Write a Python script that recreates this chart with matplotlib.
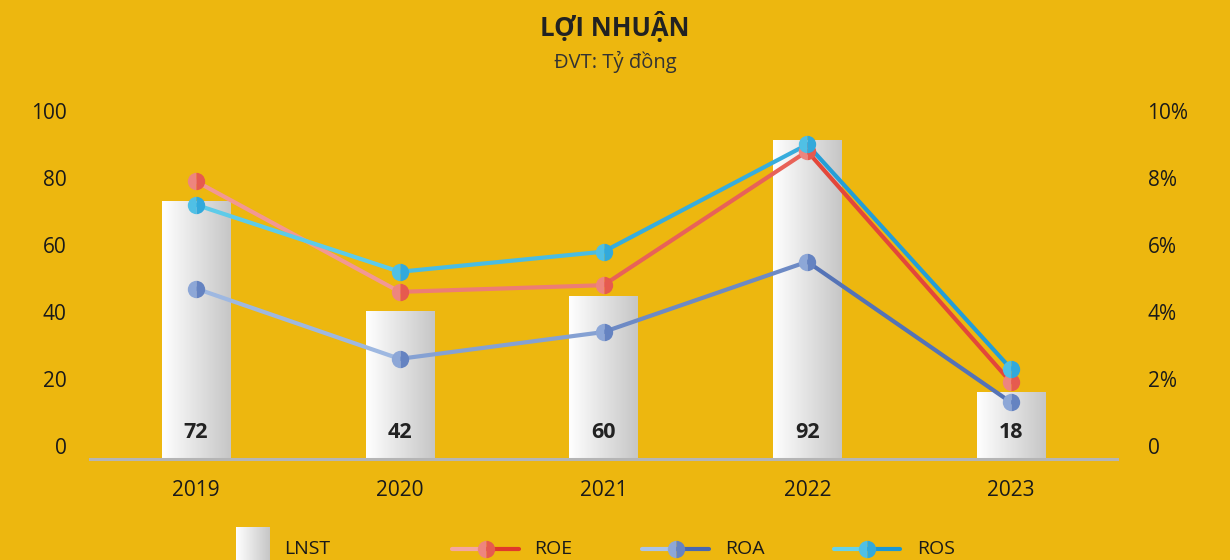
import numpy as np
import matplotlib
matplotlib.use("Agg")
import matplotlib.pyplot as plt
from matplotlib.colors import LinearSegmentedColormap, to_rgb
from matplotlib.collections import LineCollection
from matplotlib.patches import Rectangle

plt.rcParams['font.family'] = ['Open Sans', 'Noto Sans', 'DejaVu Sans']

# ---------------- data ----------------
years = ["2019", "2020", "2021", "2022", "2023"]
lnst_labels = [72, 42, 60, 92, 18]          # printed values
lnst_bars = [73.1, 40.3, 44.8, 91.3, 16.1]   # drawn bar heights (as in picture)
roe = [7.9, 4.6, 4.8, 8.8, 1.9]              # %
roa = [4.7, 2.6, 3.4, 5.5, 1.3]              # %
ros = [7.2, 5.2, 5.8, 9.0, 2.3]              # %
left_ticks = [0, 20, 40, 60, 80, 100]
right_ticks = [0, 2, 4, 6, 8, 10]
right_ticklabels = ["0", "2%", "4%", "6%", "8%", "10%"]

BG = "#EDB70F"
TXT = "#1a1a1a"
series_colors = {
    "ROE": ("#f4a6a2", "#e0392b"),
    "ROA": ("#aac3e8", "#4867b0"),
    "ROS": ("#66d2ec", "#1b97d4"),
}

W, H = 1230, 560
fig = plt.figure(figsize=(W / 100, H / 100), dpi=100, facecolor=BG)

ymin = -3.9
ax = fig.add_axes([90 / W, (H - 459) / H, (1117 - 90) / W, (459 - 111) / H])
ax.set_facecolor(BG)
x = np.arange(len(years))
ax.set_xlim(-0.52, len(years) - 0.48)
ax.set_ylim(ymin, 100)

bar_cmap = LinearSegmentedColormap.from_list("bar", ["#ffffff", "#c6c6c6"])
grad = np.linspace(0, 1, 256).reshape(1, -1)
heights = np.array(lnst_bars) - ymin
bars = ax.bar(x, heights, bottom=ymin, width=0.335, color="none", edgecolor="none", zorder=2)
for b in bars:
    bx, by, bw, bh = b.get_x(), b.get_y(), b.get_width(), b.get_height()
    im = ax.imshow(grad, extent=[bx, bx + bw, by, by + bh], cmap=bar_cmap,
                   aspect="auto", zorder=2, interpolation="bicubic")
    im.set_clip_path(b)
ax.set_xlim(-0.52, len(years) - 0.48)
ax.set_ylim(ymin, 100)

for xi, lab in zip(x, lnst_labels):
    ax.annotate(str(lab), (xi, 0), xytext=(0, 10), textcoords="offset points",
                ha="center", va="center", fontsize=15.5, fontweight="bold",
                color="#222222", zorder=5)

for s in ["top", "right", "left"]:
    ax.spines[s].set_visible(False)
ax.spines["bottom"].set_color("#b5b5b5")
ax.spines["bottom"].set_linewidth(2.2)
ax.spines["bottom"].set_zorder(6)
ax.set_yticks(left_ticks)
ax.set_yticklabels([str(t) for t in left_ticks])
ax.tick_params(axis="y", length=0, pad=17, labelsize=15, labelcolor=TXT)
ax.set_xticks(x)
ax.set_xticklabels(years)
ax.tick_params(axis="x", length=0, pad=15, labelsize=15, labelcolor=TXT)

ax2 = ax.twinx()
ax2.set_ylim(ymin / 10, 10)
for s in ["top", "right", "left", "bottom"]:
    ax2.spines[s].set_visible(False)
ax2.set_yticks(right_ticks)
ax2.set_yticklabels(right_ticklabels)
ax2.tick_params(axis="y", length=0, pad=22, labelsize=15, labelcolor=TXT)


def mix(c1, c2, t):
    a, b = np.array(to_rgb(c1)), np.array(to_rgb(c2))
    return tuple(a + (b - a) * t)


for name, vals in [("ROE", roe), ("ROA", roa), ("ROS", ros)]:
    c1, c2 = series_colors[name]
    pts = np.column_stack([x, vals])
    segs = [pts[i:i + 2] for i in range(len(pts) - 1)]
    n = len(segs)
    cols = [mix(c1, c2, (i + 0.5) / n) for i in range(n)]
    lc = LineCollection(segs, colors=cols, linewidths=3, zorder=3, capstyle="round")
    ax2.add_collection(lc)
    ax2.plot(x, vals, linestyle="none", marker="o", markersize=12.5,
             fillstyle="left", markerfacecolor=mix(c1, c2, 0.3),
             markerfacecoloralt=mix(c1, c2, 0.7), markeredgewidth=0, zorder=4)

# title
fig.text(0.5, 1 - 27 / H, "LỢI NHUẬN", ha="center", va="center",
         fontsize=18.5, fontweight="bold", color="#222222")
fig.text(0.5, 1 - 62 / H, "ĐVT: Tỷ đồng", ha="center", va="center",
         fontsize=14.5, color="#333333")

# legend (drawn manually in pixel space)
lg = fig.add_axes([0, 0, 1, 1], facecolor="none")
lg.set_xlim(0, W)
lg.set_ylim(H, 0)
lg.axis("off")
ly = 549
r = Rectangle((236, 527), 34, 40, facecolor="none", edgecolor="none")
lg.add_patch(r)
im = lg.imshow(grad, extent=[236, 270, 567, 527], cmap=bar_cmap, aspect="auto",
               interpolation="bicubic")
im.set_clip_path(r)
lg.set_xlim(0, W)
lg.set_ylim(H, 0)
lg.text(284, ly, "LNST", ha="left", va="center", fontsize=14, color=TXT)
for name, x0, x1, xt in [("ROE", 452, 519, 534), ("ROA", 642, 709, 725), ("ROS", 834, 900, 917)]:
    c1, c2 = series_colors[name]
    xm = (x0 + x1) / 2
    lg.add_collection(LineCollection([[(x0, ly), (xm, ly)], [(xm, ly), (x1, ly)]],
                                     colors=[c1, c2], linewidths=3, capstyle="round"))
    lg.plot([xm], [ly], linestyle="none", marker="o", markersize=12.5, fillstyle="left",
            markerfacecolor=mix(c1, c2, 0.3), markerfacecoloralt=mix(c1, c2, 0.7),
            markeredgewidth=0)
    lg.text(xt, ly, name, ha="left", va="center", fontsize=14, color=TXT)

fig.savefig("out.png", dpi=100, facecolor=BG)
